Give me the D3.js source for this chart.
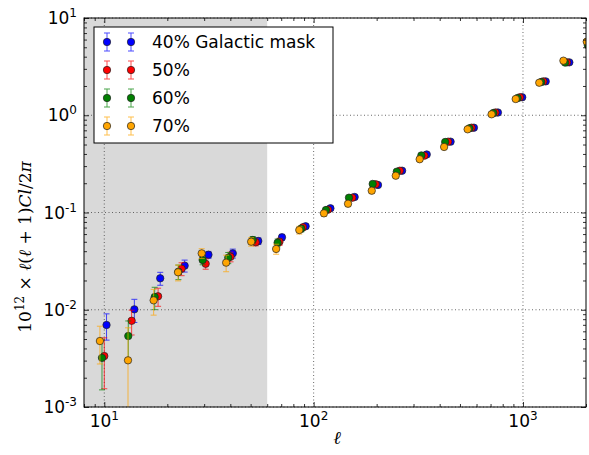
<!DOCTYPE html>
<html>
<head>
<meta charset="utf-8">
<script src="https://cdn.jsdelivr.net/npm/d3@7"></script>
<style>
body { margin: 0; background: #fff; }
svg { display: block; }
</style>
</head>
<body>
<svg id="chart" width="589" height="455"></svg>
<script>
// masks, colours of the four series
var maskLabels = ["40% Galactic mask", "50%", "60%", "70%"];
var maskColors = ["#0000ff", "#ff0000", "#008000", "#ffa500"];

// multipole bin centres per mask (slightly shifted in the plot)
var ell40 = [10.25, 13.92, 18.5, 24.2, 31.45, 41.1, 54.4, 70.6, 91.6, 120.3, 157, 203, 264.6, 347, 451, 583, 759, 992, 1284, 1665, 2150];
var ell50 = [10.0, 13.51, 18.07, 23.4, 30.5, 40.1, 52.9, 68.7, 88.9, 117.1, 153, 198, 258, 338, 439, 568, 739, 967, 1251, 1624, 2100];
var ell60 = [9.75, 13.02, 17.41, 22.6, 29.5, 39.1, 51.2, 67.3, 87.3, 114.5, 147.5, 191.5, 249.6, 327, 425, 555, 722, 943, 1223, 1589, 2040];
var ell70 = [9.53, 12.98, 17.21, 22.5, 29.2, 38.2, 50.3, 66.2, 85.4, 112, 146, 189.5, 246.8, 321, 420, 544, 708, 923, 1196, 1560, 2017];

// 10^12 x l(l+1)Cl/2pi
var cl40 = [0.00697, 0.0101, 0.02105, 0.0284, 0.0368, 0.038, 0.0509, 0.0556, 0.0722, 0.1105, 0.1443, 0.1918, 0.269, 0.395, 0.535, 0.745, 1.067, 1.53, 2.23, 3.50, 5.6];
var cl50 = [0.00334, 0.0077, 0.01375, 0.0264, 0.0297, 0.0351, 0.0494, 0.0501, 0.0705, 0.107, 0.142, 0.195, 0.269, 0.384, 0.535, 0.745, 1.067, 1.53, 2.23, 3.50, 5.5];
var cl60 = [0.0032, 0.00537, 0.01352, 0.0246, 0.0325, 0.0343, 0.0521, 0.0489, 0.0682, 0.106, 0.142, 0.1966, 0.263, 0.386, 0.531, 0.734, 1.055, 1.503, 2.2, 3.48, 5.27];
var cl70 = [0.00477, 0.00302, 0.0125, 0.0243, 0.038, 0.0305, 0.0501, 0.0422, 0.066, 0.098, 0.123, 0.1675, 0.239, 0.353, 0.472, 0.717, 1.023, 1.469, 2.16, 3.64, 5.71];

// error bars (linear, symmetric)
var err40 = [0.0021, 0.0027, 0.0032, 0.004, 0.003, 0.004, 0.004, 0.004, 0.004, 0.005, 0.006, 0.007, 0.008, 0.010, 0.012, 0.015, 0.02, 0.03, 0.04, 0.06, 0.09];
var err50 = [0.0018, 0.0022, 0.0029, 0.004, 0.0036, 0.004, 0.004, 0.0042, 0.0045, 0.005, 0.006, 0.007, 0.009, 0.011, 0.013, 0.016, 0.022, 0.03, 0.045, 0.07, 0.1];
var err60 = [0.0017, 0.0023, 0.0035, 0.0042, 0.0035, 0.0045, 0.0045, 0.0045, 0.005, 0.006, 0.007, 0.008, 0.01, 0.012, 0.015, 0.018, 0.025, 0.035, 0.05, 0.08, 0.12];
var err70 = [0.002, 0.0035, 0.0037, 0.0045, 0.0044, 0.0059, 0.005, 0.005, 0.006, 0.007, 0.008, 0.01, 0.012, 0.015, 0.018, 0.022, 0.03, 0.045, 0.07, 0.15, 0.2];

var xTicks = [10, 100, 1000];
var yTicks = [1e-3, 1e-2, 1e-1, 1, 10];
var maskCut = 60;   // shaded low-l region

var series = [
  {ell: ell40, cl: cl40, err: err40},
  {ell: ell50, cl: cl50, err: err50},
  {ell: ell60, cl: cl60, err: err60},
  {ell: ell70, cl: cl70, err: err70}
];

var svg = d3.select("#chart"),
margin = {top: 18, right: 3, bottom: 48, left: 84},
width = +svg.attr("width") - margin.left - margin.right,
height = +svg.attr("height") - margin.top - margin.bottom,
g = svg.append("g").attr("transform", "translate(" + margin.left + "," + margin.top + ")");

var x = d3.scaleLog().domain([8, 2000]).range([0, width]);
var y = d3.scaleLog().domain([1e-3, 10]).range([height, 0]);

svg.append("defs").append("clipPath").attr("id", "clip")
  .append("rect").attr("width", width).attr("height", height);

// shaded region
g.append("rect")
  .attr("x", 0).attr("y", 0)
  .attr("width", x(maskCut)).attr("height", height)
  .attr("fill", "#d9d9d9");

// dotted grid
g.selectAll(".gx").data(xTicks).enter().append("line")
  .attr("x1", function(d) { return x(d); }).attr("x2", function(d) { return x(d); })
  .attr("y1", 0).attr("y2", height)
  .attr("stroke", "#444").attr("stroke-width", 0.8).attr("stroke-dasharray", "1,2.5");
g.selectAll(".gy").data(yTicks).enter().append("line")
  .attr("y1", function(d) { return y(d); }).attr("y2", function(d) { return y(d); })
  .attr("x1", 0).attr("x2", width)
  .attr("stroke", "#444").attr("stroke-width", 0.8).attr("stroke-dasharray", "1,2.5");

// data
var plot = g.append("g").attr("clip-path", "url(#clip)");
series.forEach(function(s, i) {
  var pts = s.ell.map(function(l, k) { return {l: l, v: s.cl[k], e: s.err[k]}; });
  var col = maskColors[i];
  var eb = plot.append("g").attr("stroke", col).attr("stroke-width", 1).attr("opacity", 0.7);
  pts.forEach(function(p) {
    var px = x(p.l);
    var yt = y(p.v + p.e);
    var lo = p.v - p.e;
    var yb = lo > 0 ? y(lo) : height + 20;
    eb.append("line").attr("x1", px).attr("x2", px).attr("y1", yt).attr("y2", yb);
    eb.append("line").attr("x1", px - 3).attr("x2", px + 3).attr("y1", yt).attr("y2", yt);
    if (lo > 0) eb.append("line").attr("x1", px - 3).attr("x2", px + 3).attr("y1", yb).attr("y2", yb);
  });
  plot.append("g").selectAll("circle").data(pts).enter().append("circle")
    .attr("cx", function(d) { return x(d.l); })
    .attr("cy", function(d) { return y(d.v); })
    .attr("r", 3.7)
    .attr("fill", col)
    .attr("stroke", "#222").attr("stroke-width", 0.7);
});

// minor tick values
function minors(lo, hi) {
  var out = [];
  for (var dec = Math.floor(Math.log10(lo)); dec <= Math.ceil(Math.log10(hi)); dec++) {
    for (var k = 2; k <= 9; k++) {
      var v = k * Math.pow(10, dec);
      if (v >= lo && v <= hi) out.push(v);
    }
  }
  return out;
}
var xMinor = minors(8, 2000), yMinor = minors(1e-3, 10);

function ticks(axis, vals, size) {
  return axis.tickValues(vals).tickSize(size).tickFormat("");
}
var axes = g.append("g").attr("class", "axes");
axes.append("g").attr("transform", "translate(0," + height + ")").call(ticks(d3.axisBottom(x), xTicks, -5));
axes.append("g").attr("transform", "translate(0," + height + ")").call(ticks(d3.axisBottom(x), xMinor, -3));
axes.append("g").call(ticks(d3.axisTop(x), xTicks, -5));
axes.append("g").call(ticks(d3.axisTop(x), xMinor, -3));
axes.append("g").call(ticks(d3.axisLeft(y), yTicks, -5));
axes.append("g").call(ticks(d3.axisLeft(y), yMinor, -3));
axes.append("g").attr("transform", "translate(" + width + ",0)").call(ticks(d3.axisRight(y), yTicks, -5));
axes.append("g").attr("transform", "translate(" + width + ",0)").call(ticks(d3.axisRight(y), yMinor, -3));
axes.selectAll(".domain").remove();
axes.selectAll(".tick line").attr("stroke", "#000").attr("stroke-width", 0.8);

g.append("rect").attr("width", width).attr("height", height)
  .attr("fill", "none").attr("stroke", "#000").attr("stroke-width", 1);

// tick labels 10^n
function expLabel(sel, v) {
  var n = Math.round(Math.log10(v));
  sel.append("tspan").text("10");
  sel.append("tspan").attr("font-size", "12px").attr("dy", "-7").text(n < 0 ? "-" + (-n) : String(n));
}
g.selectAll(".xl").data(xTicks).enter().append("text")
  .attr("x", function(d) { return x(d); }).attr("y", height + 20)
  .attr("text-anchor", "middle")
  .attr("font-family", "DejaVu Sans").attr("font-size", "17px")
  .each(function(d) { expLabel(d3.select(this), d); });
g.selectAll(".yl").data(yTicks).enter().append("text")
  .attr("x", -7).attr("y", function(d) { return y(d) + 6; })
  .attr("text-anchor", "end")
  .attr("font-family", "DejaVu Sans").attr("font-size", "17px")
  .each(function(d) { expLabel(d3.select(this), d); });

// axis titles
svg.append("text")
  .attr("x", margin.left + width / 2 + 2).attr("y", 444)
  .attr("text-anchor", "middle")
  .attr("font-family", "DejaVu Serif").attr("font-style", "italic").attr("font-size", "18px")
  .text("ℓ");
var yl = svg.append("text")
  .attr("transform", "translate(31,247) rotate(-90)")
  .attr("text-anchor", "middle")
  .attr("font-family", "DejaVu Serif").attr("font-size", "17px");
yl.append("tspan").text("10");
yl.append("tspan").attr("font-size", "12px").attr("dy", "-7").text("12");
yl.append("tspan").attr("dy", "7").text(" × ");
yl.append("tspan").attr("font-style", "italic").text("ℓ");
yl.append("tspan").text("(");
yl.append("tspan").attr("font-style", "italic").text("ℓ");
yl.append("tspan").text(" + 1)");
yl.append("tspan").attr("font-style", "italic").text("Cl");
yl.append("tspan").text("/2");
yl.append("tspan").attr("font-style", "italic").text("π");

// legend
var leg = g.append("g").attr("transform", "translate(10,9)");
leg.append("rect").attr("width", 239).attr("height", 116)
  .attr("fill", "#fff").attr("stroke", "#000").attr("stroke-width", 1);
maskLabels.forEach(function(lab, i) {
  var ry = 15 + i * 28;
  [13, 37].forEach(function(mx) {
    var e = leg.append("g").attr("stroke", maskColors[i]).attr("stroke-width", 1).attr("opacity", 0.7);
    e.append("line").attr("x1", mx).attr("x2", mx).attr("y1", ry - 9).attr("y2", ry + 9);
    e.append("line").attr("x1", mx - 3).attr("x2", mx + 3).attr("y1", ry - 9).attr("y2", ry - 9);
    e.append("line").attr("x1", mx - 3).attr("x2", mx + 3).attr("y1", ry + 9).attr("y2", ry + 9);
    leg.append("circle").attr("cx", mx).attr("cy", ry).attr("r", 3.7)
      .attr("fill", maskColors[i]).attr("stroke", "#222").attr("stroke-width", 0.7);
  });
  leg.append("text").attr("x", 58).attr("y", ry + 6)
    .attr("font-family", "DejaVu Sans").attr("font-size", "17px")
    .text(lab);
});
</script>
</body>
</html>
